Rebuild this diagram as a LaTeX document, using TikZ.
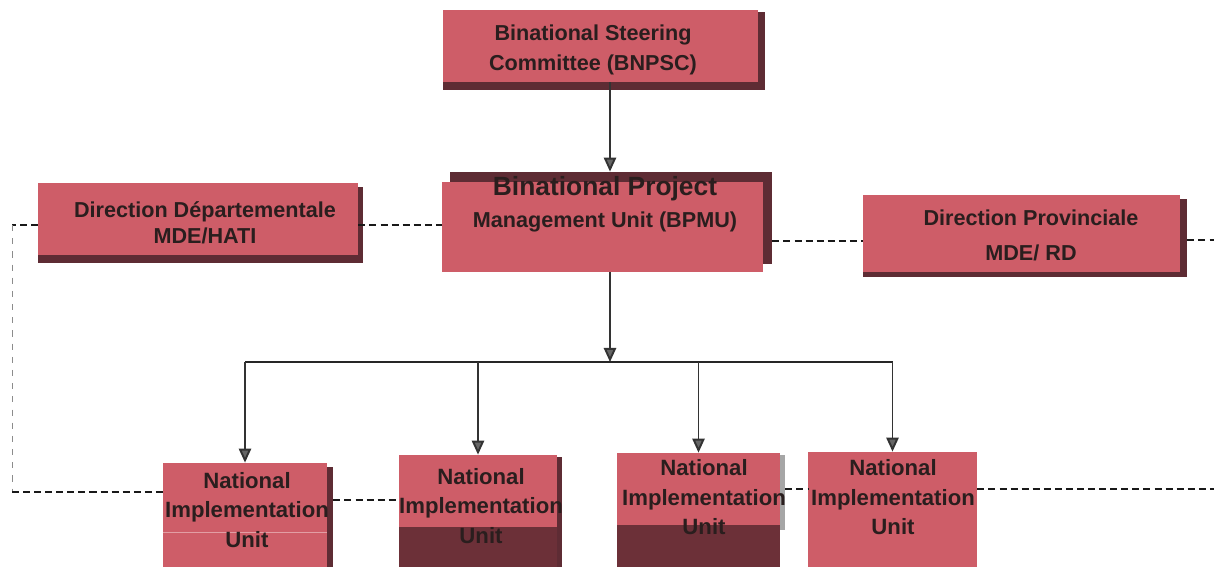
\documentclass[tikz,border=0pt]{standalone}
\usepackage{fontspec}
\setmainfont{Liberation Sans}
\definecolor{OrgRed}{HTML}{CE5D68}
\definecolor{OrgShade}{HTML}{5E2C34}
\definecolor{OrgDark}{HTML}{6C3038}
\definecolor{OrgInk}{HTML}{2A1E1E}
\usetikzlibrary{arrows.meta, calc, backgrounds}

\begin{document}
\begin{tikzpicture}[x=0.2mm, y=-0.2mm,
    orgbox/.style={fill=OrgRed, inner sep=0pt},
    boxshadow/.style={fill=OrgShade},
    boxtext/.style={font=\fontsize{12.3}{17}\selectfont\bfseries, align=center, text=OrgInk, inner sep=0pt},
    unittext/.style={font=\fontsize{12.6}{16.8}\selectfont\bfseries, align=center, text=OrgInk, inner sep=0pt},
    link/.style={draw=black!80, line width=1.1pt, -{Triangle[width=7pt, length=8pt, fill=black!60]}},
    busline/.style={draw=black!85, line width=0.9pt},
    dashlink/.style={draw=black!90, line width=1.1pt, dash pattern=on 4pt off 2.3pt},
    thinlink/.style={draw=black!45, line width=0.5pt, dash pattern=on 3.5pt off 4pt}]
    \useasboundingbox (0,0) rectangle (1214,567);
    % Boxes
    \node[orgbox, minimum width=63mm, minimum height=14.4mm] (bnpsc) at (600.5,46) {};
    \node[orgbox, minimum width=64.2mm, minimum height=18mm] (bpmu) at (602.5,227) {};
    \node[orgbox, minimum width=64mm, minimum height=14.4mm] (dd) at (198,219) {};
    \node[orgbox, minimum width=63.4mm, minimum height=15.4mm] (dp) at (1021.5,233.5) {};
    \node[orgbox, minimum width=32.8mm, minimum height=20.8mm] (niu1) at (245,515) {};
    \node[orgbox, minimum width=31.6mm, minimum height=22.4mm] (niu2) at (478,511) {};
    \node[orgbox, minimum width=32.6mm, minimum height=22.8mm] (niu3) at (698.5,510) {};
    \node[orgbox, minimum width=33.8mm, minimum height=23mm] (niu4) at (892.5,509.5) {};
    % Shadows
    \begin{scope}[on background layer]
        \fill[boxshadow] ($(bnpsc.south west)+(0,8)$) rectangle ($(bnpsc.north east)+(7,2)$);
        \fill[boxshadow] ($(bpmu.south west)+(8,-8)$) rectangle ($(bpmu.north east)+(9,-10)$);
        \fill[boxshadow] ($(dd.south west)+(0,8)$) rectangle ($(dd.north east)+(5,4)$);
        \fill[boxshadow] ($(dp.south west)+(0,5)$) rectangle ($(dp.north east)+(7,4)$);
        \fill[boxshadow] ($(niu1.south west)+(6,0)$) rectangle ($(niu1.north east)+(6,4)$);
        \fill[boxshadow] ($(niu2.south west)+(5,0)$) rectangle ($(niu2.north east)+(5,2)$);
        \fill[black!35] ($(niu3.north east)+(0,2)$) rectangle ($(niu3.north east)+(5,77)$);
    \end{scope}
    % Dark lower parts
    \fill[OrgDark] (399,527) rectangle (557,567);
    \fill[OrgDark] (617,525) rectangle (780,567);
    \draw[OrgRed!60!white, line width=0.5pt] (163,532) -- (327,532);
    % Texts
    \node[boxtext] (bnpsc-t) at (593,49.5) {Binational Steering\\Committee (BNPSC)};
    \node[boxtext, font=\fontsize{12.3}{18}\selectfont\bfseries] (bpmu-t) at (605,204)
        {{\fontsize{15}{18}\selectfont Binational Project}\\Management Unit (BPMU)};
    \node[boxtext, font=\fontsize{12.3}{14.7}\selectfont\bfseries] (dd-t) at (205,222.5)
        {Direction Départementale\\MDE/HATI};
    \node[boxtext, font=\fontsize{12.3}{19.8}\selectfont\bfseries] (dp-t) at (1031,235)
        {Direction Provinciale\\MDE/ RD};
    \node[unittext] (niu1-t) at (247,510) {National\\Implementation\\Unit};
    \node[unittext] (niu2-t) at (481,506) {National\\Implementation\\Unit};
    \node[unittext] (niu3-t) at (704,497.5) {National\\Implementation\\Unit};
    \node[unittext] (niu4-t) at (893,497.5) {National\\Implementation\\Unit};
    % Hierarchy
    \coordinate (bus) at (610,362);
    \draw[link] (bnpsc.south -| bus) -- ($(bpmu.north -| bus)+(0,-10)$);
    \draw[link] (bpmu.south -| bus) -- (bus);
    \draw[busline] (niu1.north |- bus) -- (niu4.north |- bus);
    \foreach \n in {niu1,niu2,niu3,niu4}
        \draw[link] (\n.north |- bus) -- (\n.north);
    % Dashed links
    \coordinate (wrow) at (0,225);
    \coordinate (erow) at (0,241);
    \coordinate (srow) at (0,500);
    \coordinate (lcorner) at (12,225);
    \coordinate (lbottom) at (12,492);
    \coordinate (redge1) at (1214,240);
    \coordinate (redge2) at (1214,489);
    \draw[dashlink] (dd.west |- wrow) -- (lcorner);
    \draw[thinlink] (lcorner) -- (lbottom);
    \draw[dashlink] (lbottom) -- (niu1.west |- lbottom);
    \draw[dashlink] (dd.east |- wrow) -- (bpmu.west |- wrow);
    \draw[dashlink] ($(bpmu.east |- erow)+(9,0)$) -- (dp.west |- erow);
    \draw[dashlink] ($(dp.east |- redge1)+(7,0)$) -- (redge1);
    \draw[dashlink] ($(niu1.east |- srow)+(6,0)$) -- (niu2.west |- srow);
    \draw[dashlink] ($(niu3.east |- redge2)+(5,0)$) -- (niu4.west |- redge2);
    \draw[dashlink] (niu4.east |- redge2) -- (redge2);
\end{tikzpicture}
\end{document}
